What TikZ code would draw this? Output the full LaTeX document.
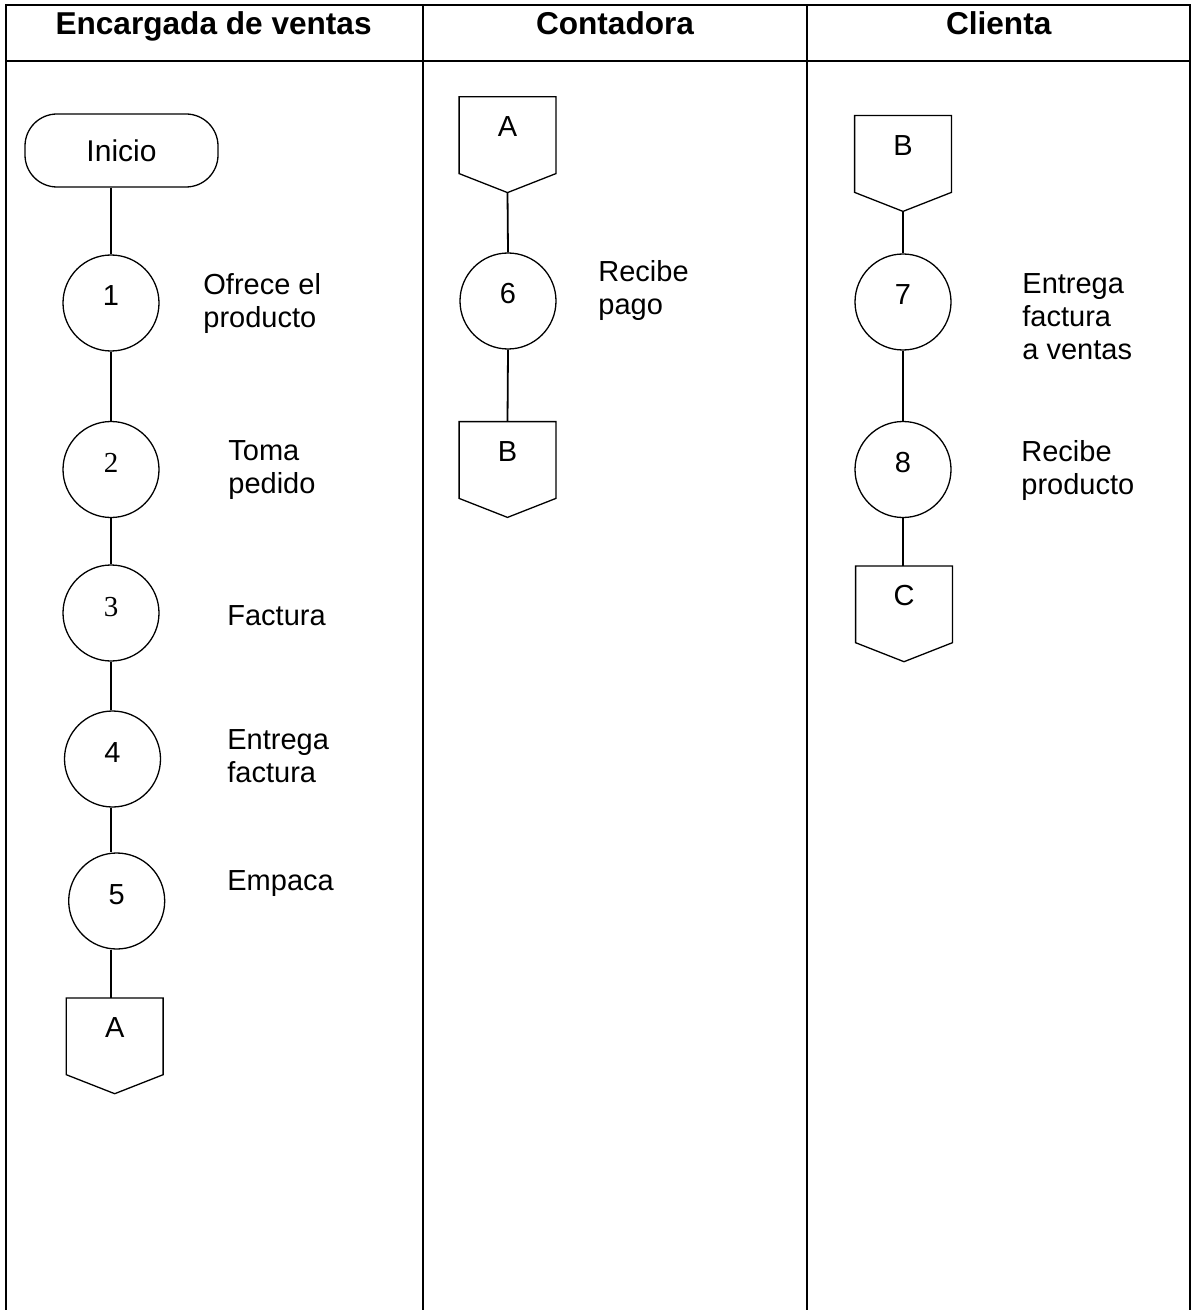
\documentclass[tikz,border=0pt]{standalone}
\usepackage{fontspec}
\setmainfont{Liberation Sans}
\newfontfamily\numserif{Liberation Serif}
\begin{document}
\begin{tikzpicture}[x=0.5pt,y=-0.5pt,
  tbl/.style={line width=1pt},
  flow/.style={line width=0.9pt},
  shp/.style={line width=0.65pt},
  circ/.style={circle, draw, shp, minimum size=48pt, inner sep=0pt,
    font=\fontsize{14.5}{16.5}\selectfont, text height=10pt, text depth=7pt},
  offpg/.style={minimum width=48pt, minimum height=38pt, inner sep=0pt,
    font=\fontsize{14.5}{16.5}\selectfont, text height=10pt, text depth=8.6pt},
  desc/.style={anchor=north west, inner sep=0pt, align=left,
    font=\fontsize{14.5}{16.5}\selectfont},
  head/.style={anchor=base, inner sep=0pt, font=\bfseries\fontsize{15.8}{18}\selectfont},
]
\useasboundingbox (0,0) rectangle (1193,1310);

% table
\draw[tbl] (5.5,1310) -- (5.5,5) -- (1190,5) -- (1190,1310);
\draw[tbl] (5.5,61) -- (1190,61);
\draw[tbl] (423,5) -- (423,1310);
\draw[tbl] (807,5) -- (807,1310);

% headers
\node[head] (h1) at (213.6,35) {Encargada de ventas};
\node[head] (h2) at (615,35) {Contadora};
\node[head] (h3) at (998.7,35) {Clienta};

% lane 1
\coordinate (axL) at (111,0);
\node[draw, shp, rounded corners=16pt, minimum width=96.5pt, minimum height=36.5pt,
  inner sep=0pt, font=\fontsize{15}{18}\selectfont] (ini) at (121.5,150.5) {Inicio};
\node[circ] (c1) at (111,303) {1};
\node[circ] (c2) at (111,469.5) {\numserif 2};
\node[circ] (c3) at (111,613) {\numserif 3};
\node[circ] (c4) at (112.5,759) {4};
\node[circ] (c5) at (116.7,901) {5};
\node[offpg] (oA1) at (114.7,1036.3) {A};

% lane 2
\node[offpg] (oA2) at (507.5,135.2) {A};
\node[circ] (c6) at (508,301) {6};
\node[offpg] (oB1) at (507.5,460) {B};

% lane 3
\node[offpg] (oB2) at (903,154) {B};
\node[circ] (c7) at (903,302) {7};
\node[circ] (c8) at (903,469.5) {8};
\node[offpg] (oC) at (904,604.3) {C};

% off-page connector outlines
\foreach \n in {oA1,oA2,oB1,oB2,oC}
  \draw[shp] (\n.north west) -- (\n.north east) -- (\n.south east)
    -- ([yshift=-9.5pt]\n.south) -- (\n.south west) -- cycle;
\coordinate (oA2tip) at ([yshift=-9.5pt]oA2.south);
\coordinate (oB2tip) at ([yshift=-9.5pt]oB2.south);

% connectors
\draw[flow] (ini.south -| axL) -- (c1.north -| axL);
\draw[flow] (c1) -- (c2);
\draw[flow] (c2) -- (c3);
\draw[flow] (c3.south -| axL) -- (c4.north -| axL);
\draw[flow] (c4.south -| axL) -- (c5.north -| axL);
\draw[flow] (c5.south -| axL) -- (oA1.north -| axL);
\draw[flow] (oA2tip) -- (c6.north);
\draw[flow] (c6.south) -- (oB1.north);
\draw[flow] (oB2tip) -- (c7.north);
\draw[flow] (c7) -- (c8);
\draw[flow] (c8.south) -- (oC.north -| c8);

% descriptions
\node[desc] (t1) at (203,273.3) {Ofrece el\\producto};
\node[desc] (t2) at (228,440) {Toma\\pedido};
\node[desc] (t3) at (227,605) {Factura};
\node[desc] (t4) at (227,729) {Entrega\\factura};
\node[desc] (t5) at (227,870) {Empaca};
\node[desc] (t6) at (598,260) {Recibe\\pago};
\node[desc] (t7) at (1022,272.7) {Entrega\\factura\\a ventas};
\node[desc] (t8) at (1021,440) {Recibe\\producto};
\end{tikzpicture}
\end{document}
